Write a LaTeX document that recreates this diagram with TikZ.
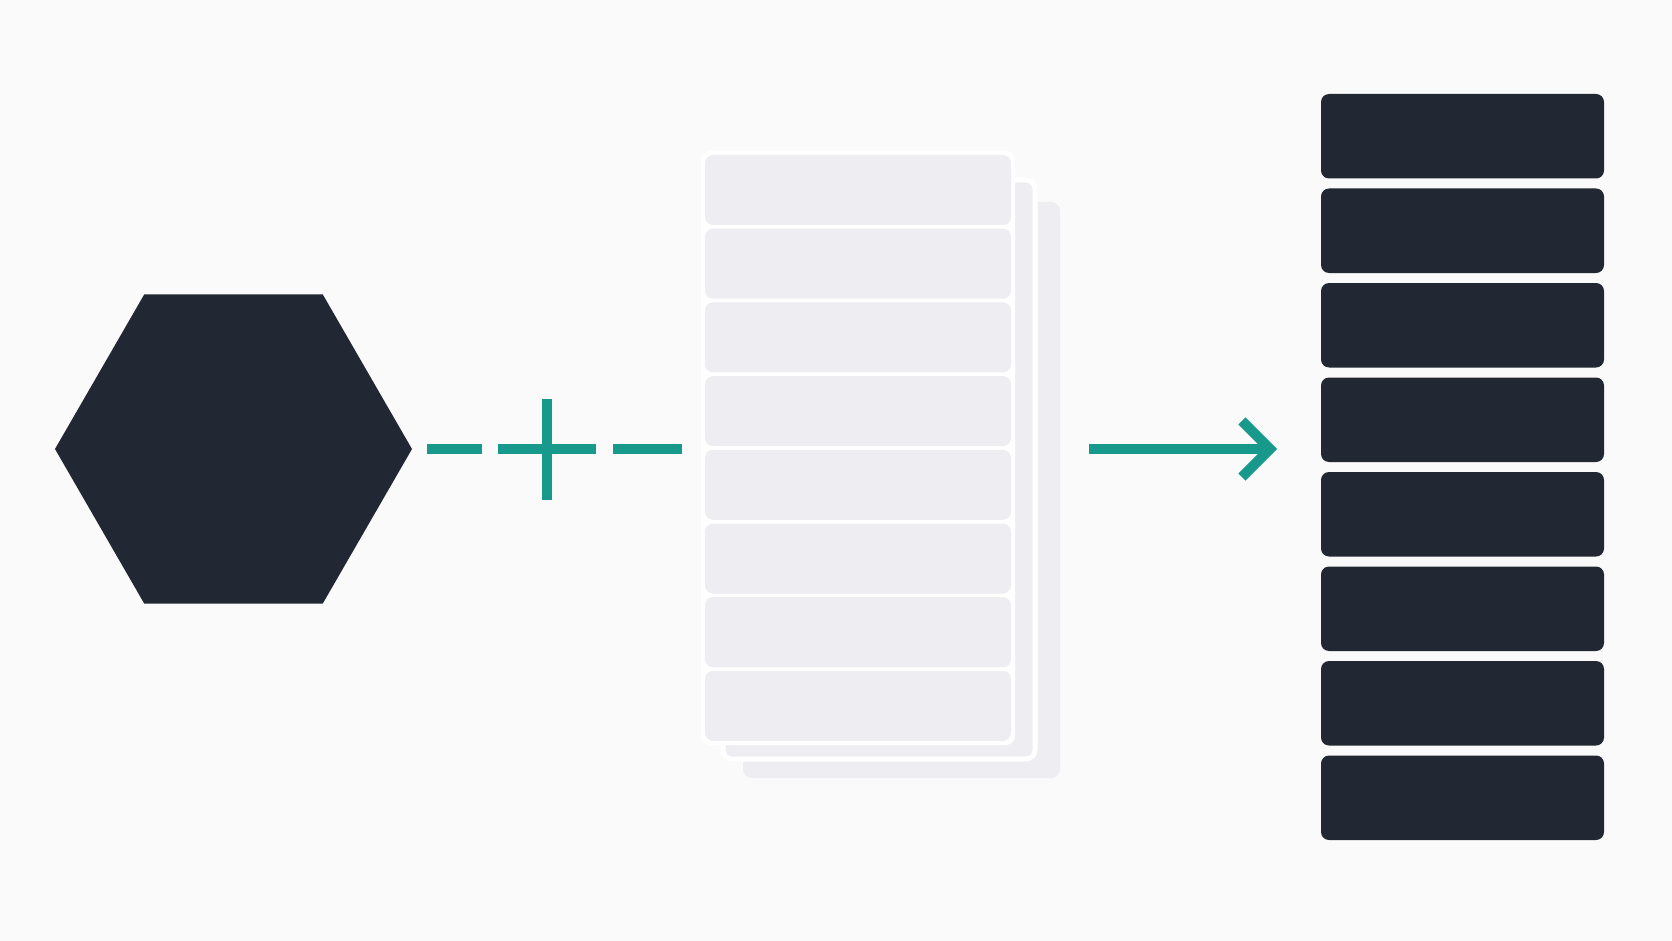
\documentclass[tikz,border=0pt]{standalone}
\usetikzlibrary{shapes.geometric,arrows.meta}

\definecolor{inkdark}{HTML}{212833}
\definecolor{tealline}{HTML}{17998B}
\definecolor{sheetgrey}{HTML}{EEEEF2}
\definecolor{paper}{HTML}{FAFAFA}

\tikzset{
  hexblock/.style={regular polygon, regular polygon sides=6, minimum size=357pt, inner sep=0pt, fill=inkdark},
  link/.style={draw=tealline, line width=10pt},
  flow/.style={link, -{Straight Barb[length=28pt, width=56pt, line width=10pt]}},
  sheet/.style={rectangle, rounded corners=9pt, fill=sheetgrey, inner sep=0pt},
  rowbox/.style={rectangle, rounded corners=8pt, fill=sheetgrey, minimum width=306pt, minimum height=70pt, inner sep=0pt},
  barbox/.style={rectangle, rounded corners=8pt, fill=inkdark, minimum width=283pt, minimum height=84.5pt, inner sep=0pt},
}

\begin{document}
\begin{tikzpicture}[x=1pt,y=-1pt]
    % Background
    \fill[paper] (0,0) rectangle (1672,941);

    % Draw Hexagon
    \node[hexblock] (hex) at (233.5,449) {};

    % Draw Page Stack
    \node[sheet, minimum width=317pt, minimum height=576pt] (page3) at (901.5,490) {};
    \node[sheet, draw=white, line width=5pt, minimum width=312pt, minimum height=579pt] (page2) at (879,469.5) {};
    \node[sheet, fill=white, minimum width=314pt, minimum height=594pt] (front) at (858,448) {};
    \foreach \i in {1,...,8}
        \node[rowbox] (r\i) at (858, {190+(\i-1)*73.7}) {};

    % Draw Result Bars
    \foreach \i in {1,...,8}
        \node[barbox] (b\i) at (1462.5, {136.25+(\i-1)*94.5}) {};

    % Plus Sign
    \coordinate (plus) at (547,449);
    \draw[link] ([xshift=-49pt]plus) -- ([xshift=49pt]plus);
    \draw[link] ([yshift=50pt]plus) -- ([yshift=-51pt]plus);

    % -- dashes on both sides
    \draw[link] ([xshift=15pt]hex.east) -- ([xshift=-65pt]plus);
    \draw[link] ([xshift=66pt]plus) -- ([xshift=-19pt]front.west |- plus);

    % Output Arrow
    \coordinate (tail) at ([xshift=29pt]page3.east |- hex.east);
    \coordinate (head) at (1277,449);
    \draw[flow] (tail) -- (head);
\end{tikzpicture}
\end{document}
